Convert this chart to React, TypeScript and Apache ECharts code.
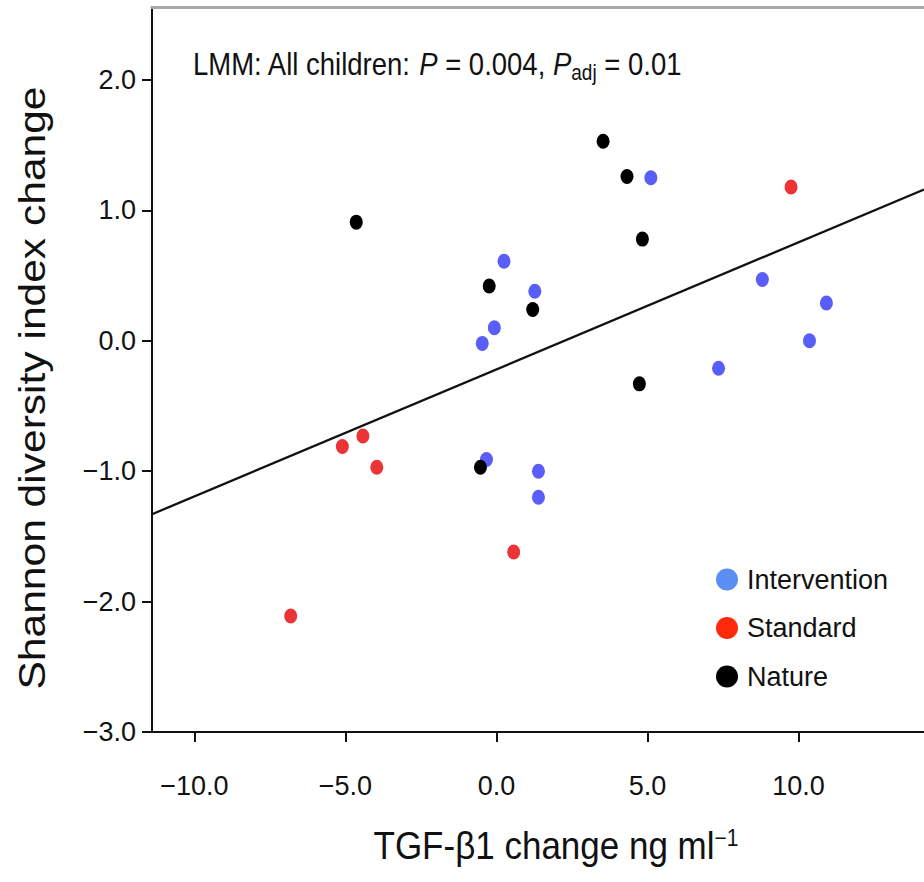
import React, { useEffect, useRef } from "react";
import * as echarts from "echarts";

const xTicks = [-10, -5, 0, 5, 10];
const yTicks = [-3, -2, -1, 0, 1, 2];

const intervention: number[][] = [
  [5.11, 1.25], [0.25, 0.61], [1.27, 0.38], [-0.07, 0.1], [-0.47, -0.02],
  [8.8, 0.47], [10.92, 0.29], [10.36, 0.0], [7.35, -0.21], [-0.33, -0.91],
  [1.39, -1.0], [1.39, -1.2],
];
const standard: number[][] = [
  [9.75, 1.18], [-5.1, -0.81], [-4.42, -0.73], [-3.96, -0.97], [0.57, -1.62], [-6.81, -2.11],
];
const nature: number[][] = [
  [3.53, 1.53], [4.32, 1.26], [4.83, 0.78], [-0.24, 0.42], [1.2, 0.24],
  [4.73, -0.33], [-4.64, 0.91], [-0.53, -0.97],
];
const fitLine: number[][] = [[-11.4, -1.33], [14.15, 1.16]];

const FONT = "'Liberation Sans', Arial, sans-serif";
const fmt = (v: number) => (v < 0 ? "\u2212" : "") + Math.abs(v).toFixed(1);
const dot = "path://M0,1a1,1 0 1,0 2,0a1,1 0 1,0 -2,0";

export default function App() {
  const ref = useRef<HTMLDivElement>(null);
  useEffect(() => {
    if (!ref.current) return;
    const chart = echarts.init(ref.current, null, { renderer: "svg" });
    const xMin = -11.4, xMax = 14.15;
    chart.setOption({
      animation: false,
      backgroundColor: "#fff",
      grid: { left: 152, right: 0, top: 7, bottom: 150, containLabel: false },
      xAxis: [
        {
          type: "value", min: xMin, max: xMax, position: "bottom",
          axisLine: { onZero: false, lineStyle: { color: "#111", width: 2 } },
          axisTick: { show: true, length: 10, lineStyle: { color: "#111", width: 2 }, customValues: xTicks },
          axisLabel: { customValues: xTicks, formatter: fmt, fontSize: 27, color: "#111", fontFamily: FONT, margin: 40 },
          splitLine: { show: false },
        },
        {
          type: "value", min: xMin, max: xMax, position: "top",
          axisLine: { onZero: false, lineStyle: { color: "#a8a8a8", width: 3 } },
          axisTick: { show: false }, axisLabel: { show: false }, splitLine: { show: false },
        },
      ],
      yAxis: {
        type: "value", min: -3, max: 2.56,
        axisLine: { onZero: false, lineStyle: { color: "#111", width: 2 } },
        axisTick: { show: true, length: 10, lineStyle: { color: "#111", width: 2 }, customValues: yTicks },
        axisLabel: { customValues: yTicks, formatter: fmt, fontSize: 27, color: "#111", fontFamily: FONT, margin: 16 },
        splitLine: { show: false },
      },
      legend: {
        orient: "vertical", left: 711, top: 561, itemWidth: 22, itemHeight: 24, itemGap: 21.5,
        icon: dot,
        textStyle: { fontSize: 27, color: "#111", fontFamily: FONT, padding: [0, 0, 0, 4] },
        data: [
          { name: "Intervention", itemStyle: { color: "#5b8ef2" } },
          { name: "Standard", itemStyle: { color: "#ff2a0c" } },
          { name: "Nature", itemStyle: { color: "#000" } },
        ],
      },
      series: [
        {
          name: "fit", type: "line", data: fitLine, symbol: "none", silent: true,
          lineStyle: { color: "#111", width: 2.3 },
        },
        { name: "Intervention", type: "scatter", data: intervention, symbol: dot, symbolSize: [13, 15], itemStyle: { color: "#5a5ef8", opacity: 1 } },
        { name: "Standard", type: "scatter", data: standard, symbol: dot, symbolSize: [13, 15], itemStyle: { color: "#ec3338", opacity: 1 } },
        { name: "Nature", type: "scatter", data: nature, symbol: dot, symbolSize: [13, 15], itemStyle: { color: "#000", opacity: 1 } },
      ],
      graphic: [
        {
          type: "text", x: 193, y: 64, scaleY: 1.12,
          style: {
            text: "LMM: All children: {i|P} = 0.004, {i|P}{s|adj} = 0.01",
            fontSize: 27.5, fontFamily: FONT, fill: "#111", verticalAlign: "middle", align: "left",
            rich: {
              i: { fontSize: 27.5, fontStyle: "italic", fontFamily: FONT, fill: "#111", lineHeight: 30 },
              s: { fontSize: 19, fontFamily: FONT, fill: "#111", lineHeight: 19, padding: [16, 0, 0, 0] },
            },
          },
        },
        {
          type: "text", x: 32, y: 388, rotation: Math.PI / 2, scaleX: 1.15,
          style: {
            text: "Shannon diversity index change", fontSize: 37, fontFamily: FONT, fill: "#111",
            align: "center", verticalAlign: "middle",
          },
        },
        {
          type: "text", x: 556, y: 846, scaleY: 1.1,
          style: {
            text: "TGF-\u03b21 change ng ml{s|\u22121}", fontSize: 35, fontFamily: FONT, fill: "#111",
            align: "center", verticalAlign: "middle",
            rich: { s: { fontSize: 21, fontFamily: FONT, fill: "#111", lineHeight: 21, padding: [0, 0, 14, 0] } },
          },
        },
      ],
    });
    return () => chart.dispose();
  }, []);
  return <div ref={ref} style={{ position: "absolute", left: 0, top: 0, width: 924, height: 882 }} />;
}
